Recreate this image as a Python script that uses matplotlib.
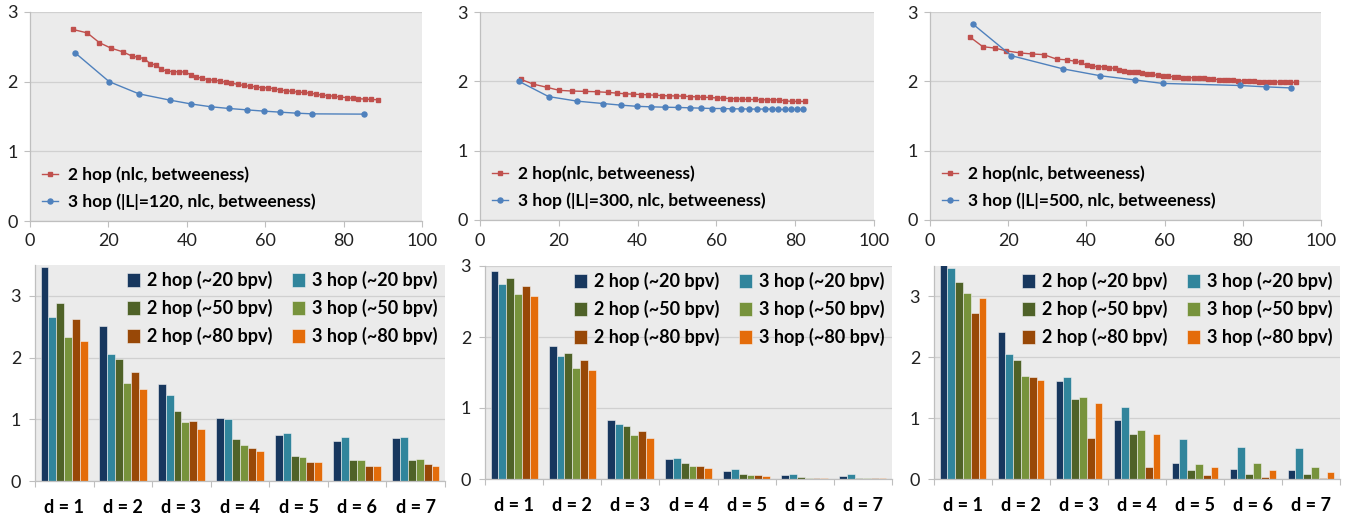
import matplotlib
matplotlib.use("Agg")
import matplotlib.pyplot as plt
import numpy as np

plt.rcParams['font.family'] = ['Lato', 'DejaVu Sans']

# ---- top row: line charts ----
tl_red_x = [10.9, 14.6, 17.7, 20.7, 23.6, 25.9, 27.6, 29.2, 30.6, 32.1, 33.5, 34.9, 36.4, 38.0, 39.5,
            41.0, 42.3, 43.8, 45.4, 46.9, 48.5, 50.0, 51.4, 53.0, 54.6, 56.0, 57.7, 59.2, 60.7, 62.2,
            63.8, 65.3, 66.8, 68.4, 69.9, 71.4, 73.0, 74.5, 76.1, 77.6, 79.2, 80.8, 82.3, 83.8, 85.5,
            87.0, 88.7]
tl_red_y = [2.75, 2.70, 2.56, 2.48, 2.43, 2.37, 2.35, 2.33, 2.26, 2.24, 2.18, 2.15, 2.145, 2.14, 2.14,
            2.10, 2.07, 2.05, 2.03, 2.02, 2.01, 1.99, 1.98, 1.96, 1.945, 1.935, 1.925, 1.915, 1.91, 1.90,
            1.88, 1.87, 1.86, 1.85, 1.845, 1.835, 1.82, 1.805, 1.80, 1.79, 1.78, 1.77, 1.76, 1.755, 1.75,
            1.745, 1.74]
tl_blue_x = [11.6, 20.2, 27.8, 35.7, 41.1, 46.1, 50.8, 55.4, 59.7, 63.9, 68.0, 72.0, 85.2]
tl_blue_y = [2.41, 2.00, 1.825, 1.735, 1.68, 1.64, 1.615, 1.595, 1.577, 1.562, 1.548, 1.538, 1.534]

tm_red_x = [10.3, 13.5, 16.9, 20.1, 23.4, 26.6, 29.7, 32.5, 34.7, 36.9, 38.9, 40.8, 42.6, 44.4, 46.3,
            48.0, 49.8, 51.6, 53.3, 55.0, 56.7, 58.4, 60.1, 61.8, 63.4, 65.0, 66.6, 68.1, 69.7, 71.2,
            72.8, 74.3, 75.8, 77.4, 79.1, 80.8, 82.5]
tm_red_y = [2.03, 1.96, 1.915, 1.87, 1.86, 1.855, 1.85, 1.84, 1.83, 1.82, 1.815, 1.81, 1.805, 1.80, 1.795,
            1.79, 1.79, 1.786, 1.78, 1.776, 1.77, 1.767, 1.76, 1.757, 1.752, 1.747, 1.742, 1.738, 1.738, 1.733,
            1.733, 1.733, 1.733, 1.72, 1.71, 1.71, 1.71]
tm_blue_x = [9.9, 17.4, 24.7, 31.2, 35.9, 39.8, 43.5, 47.0, 50.3, 53.3, 56.2, 59.0, 61.6, 64.0, 66.2,
             68.3, 70.3, 72.3, 74.0, 75.7, 77.3, 78.9, 80.4, 81.9]
tm_blue_y = [2.00, 1.78, 1.714, 1.68, 1.656, 1.64, 1.632, 1.627, 1.623, 1.618, 1.613, 1.608, 1.608, 1.603, 1.603,
             1.60, 1.60, 1.60, 1.60, 1.594, 1.594, 1.594, 1.594, 1.594]

tr_red_x = [10.2, 13.5, 16.5, 19.5, 23.0, 26.0, 29.1, 32.4, 35.0, 37.0, 38.5, 40.1, 41.5, 43.0, 44.5,
            45.9, 47.2, 48.3, 49.6, 50.9, 52.3, 53.2, 54.3, 55.6, 56.9, 58.3, 59.6, 60.9, 62.3, 63.5,
            64.8, 66.0, 67.4, 68.7, 70.0, 71.2, 72.5, 73.8, 75.1, 76.3, 77.6, 78.9, 80.2, 81.6, 82.8,
            84.2, 85.5, 86.8, 88.0, 89.4, 90.8, 92.1, 93.6]
tr_red_y = [2.64, 2.50, 2.48, 2.44, 2.41, 2.395, 2.385, 2.32, 2.31, 2.29, 2.275, 2.23, 2.22, 2.21, 2.21,
            2.19, 2.19, 2.165, 2.155, 2.14, 2.135, 2.13, 2.12, 2.11, 2.10, 2.085, 2.075, 2.07, 2.065, 2.065,
            2.055, 2.055, 2.05, 2.045, 2.045, 2.04, 2.03, 2.025, 2.02, 2.02, 2.015, 2.01, 2.005, 2.0, 2.0,
            1.995, 1.995, 1.99, 1.99, 1.99, 1.99, 1.985, 1.985]
tr_blue_x = [11.1, 20.8, 34.0, 43.6, 52.4, 59.5, 79.2, 86.0, 92.3]
tr_blue_y = [2.82, 2.37, 2.18, 2.08, 2.02, 1.97, 1.94, 1.92, 1.905]

red_labels = ['2 hop (nlc, betweeness)', '2 hop(nlc, betweeness)', '2 hop(nlc, betweeness)']
blue_labels = ['3 hop (|L|=120, nlc, betweeness)', '3 hop (|L|=300, nlc, betweeness)',
               '3 hop (|L|=500, nlc, betweeness)']

# ---- bottom row: bar charts ----
cats = ['d = 1', 'd = 2', 'd = 3', 'd = 4', 'd = 5', 'd = 6', 'd = 7']
bar_labels = ['2 hop (~20 bpv)', '3 hop (~20 bpv)', '2 hop (~50 bpv)',
              '3 hop (~50 bpv)', '2 hop (~80 bpv)', '3 hop (~80 bpv)']

bl_vals = [
    [3.46, 2.51, 1.57, 1.02, 0.74, 0.65, 0.70],
    [2.65, 2.05, 1.40, 1.00, 0.78, 0.71, 0.72],
    [2.89, 1.98, 1.14, 0.68, 0.41, 0.34, 0.34],
    [2.34, 1.59, 0.96, 0.59, 0.39, 0.34, 0.35],
    [2.63, 1.76, 0.98, 0.53, 0.31, 0.25, 0.27],
    [2.27, 1.49, 0.85, 0.48, 0.31, 0.25, 0.25],
]
bm_vals = [
    [2.925, 1.875, 0.83, 0.28, 0.113, 0.05, 0.04],
    [2.74, 1.73, 0.78, 0.30, 0.14, 0.075, 0.065],
    [2.83, 1.77, 0.75, 0.23, 0.07, 0.03, 0.02],
    [2.60, 1.57, 0.62, 0.18, 0.05, 0.02, 0.015],
    [2.72, 1.67, 0.67, 0.19, 0.05, 0.02, 0.015],
    [2.58, 1.54, 0.58, 0.155, 0.04, 0.012, 0.01],
]
br_vals = [
    [3.52, 2.41, 1.61, 0.965, 0.27, 0.16, 0.14],
    [3.47, 2.05, 1.67, 1.18, 0.65, 0.53, 0.505],
    [3.23, 1.95, 1.32, 0.735, 0.15, 0.08, 0.09],
    [3.06, 1.70, 1.355, 0.81, 0.25, 0.26, 0.19],
    [2.72, 1.67, 0.68, 0.20, 0.06, 0.03, 0.02],
    [2.97, 1.63, 1.25, 0.74, 0.19, 0.15, 0.12],
]
bar_colors = ['#17375E', '#31859C', '#4F6228', '#77933C', '#984807', '#E46C0A']

BG = '#EBEBEB'
GRID = '#D0D0D0'
AXC = '#BFBFBF'
W, H = 1348, 515

fig = plt.figure(figsize=(W / 100, H / 100), dpi=100)


def add_ax(x0, y0, x1, y1):
    return fig.add_axes([x0 / W, 1 - y1 / H, (x1 - x0) / W, (y1 - y0) / H])


def style(ax):
    ax.set_facecolor(BG)
    for s in ['top', 'right']:
        ax.spines[s].set_visible(False)
    for s in ['left', 'bottom']:
        ax.spines[s].set_color(AXC)
        ax.spines[s].set_linewidth(0.9)
    ax.yaxis.grid(True, color=GRID, linewidth=0.9)
    ax.set_axisbelow(True)
    ax.tick_params(colors=AXC, labelcolor='#222222', labelsize=13, length=4, width=0.8)


top_boxes = [(30, 12, 422, 221), (480, 12, 874, 220), (930, 12, 1321, 220)]
top_data = [(tl_red_x, tl_red_y, tl_blue_x, tl_blue_y),
            (tm_red_x, tm_red_y, tm_blue_x, tm_blue_y),
            (tr_red_x, tr_red_y, tr_blue_x, tr_blue_y)]

for i, box in enumerate(top_boxes):
    ax = add_ax(*box)
    style(ax)
    rx, ry, bx, by = top_data[i]
    ax.plot(rx, ry, color='#C0504D', marker='s', markersize=3.2, linewidth=1.0,
            label=red_labels[i])
    ax.plot(bx, by, color='#4F81BD', marker='o', markersize=3.6, linewidth=1.0,
            label=blue_labels[i])
    ax.set_xlim(0, 100)
    ax.set_ylim(0, 3)
    ax.set_xticks(np.arange(0, 101, 20))
    ax.set_yticks([0, 1, 2, 3])
    ax.tick_params(axis='x', pad=5)
    ax.tick_params(axis='y', pad=5)
    ax.legend(loc='lower left', bbox_to_anchor=(0.0, -0.005), frameon=False,
              prop={'weight': 'bold', 'size': 12.5}, handlelength=0.9,
              labelspacing=0.6, handletextpad=0.6, borderaxespad=0.3)

bot_boxes = [(35, 265, 445, 481), (485, 266, 892, 479), (934, 266, 1340, 479)]
bot_data = [bl_vals, bm_vals, br_vals]
bot_ylim = [3.5, 3.0, 3.5]

x = np.arange(len(cats))
nb = len(bar_labels)
bw = 0.135
for i, box in enumerate(bot_boxes):
    ax = add_ax(*box)
    style(ax)
    handles = []
    for j in range(nb):
        h = ax.bar(x + (j - (nb - 1) / 2) * bw, bot_data[i][j], width=bw, color=bar_colors[j],
                   edgecolor='#F2F2F2', linewidth=0.4, label=bar_labels[j])
        handles.append(h)
    ax.set_xlim(-0.5, len(cats) - 0.5)
    ax.set_ylim(0, bot_ylim[i])
    ax.set_yticks([0, 1, 2, 3])
    ax.set_xticks(np.arange(-0.5, len(cats), 1.0))
    ax.set_xticklabels([])
    ax.set_xticks(x, minor=True)
    ax.set_xticklabels(cats, minor=True, fontweight='bold', fontsize=13)
    ax.tick_params(axis='x', which='minor', length=0, pad=13)
    ax.tick_params(axis='y', pad=6)
    order = [0, 2, 4, 1, 3, 5]
    ax.legend([handles[k] for k in order], [bar_labels[k] for k in order], ncol=2,
              loc='upper right', bbox_to_anchor=(1.012, 1.03), frameon=False,
              prop={'weight': 'bold', 'size': 13}, handlelength=0.75, handleheight=0.75,
              handletextpad=0.35, columnspacing=1.1, labelspacing=0.55, borderaxespad=0.3)

fig.savefig('out.png', dpi=100)
